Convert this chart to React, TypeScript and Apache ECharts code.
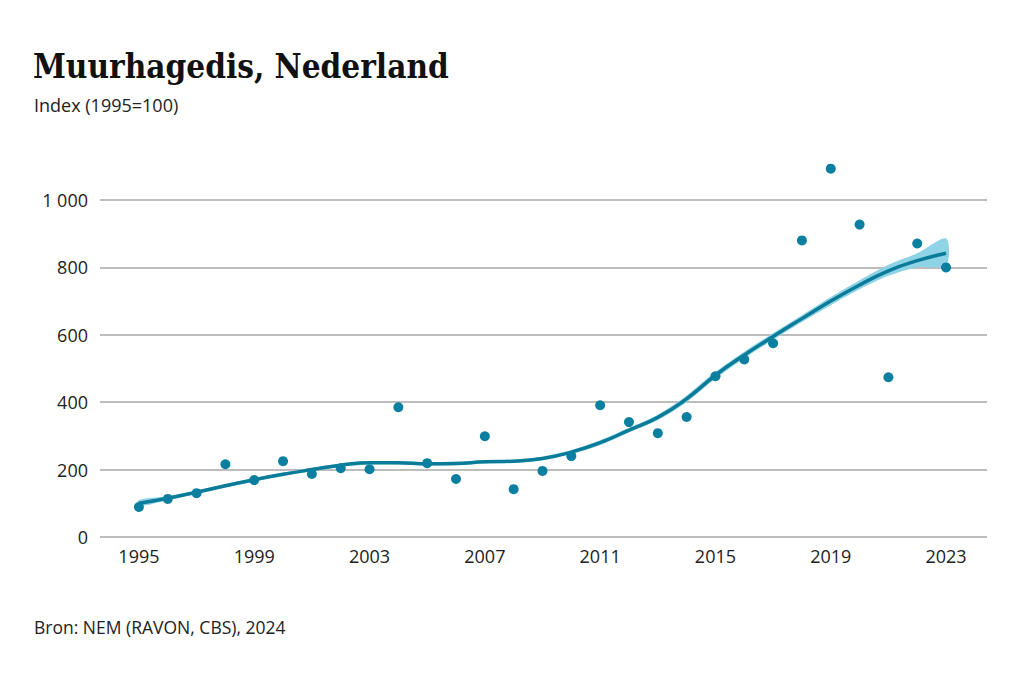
import React, { useEffect, useRef } from "react";
import * as echarts from "echarts";

const years = [1995,1996,1997,1998,1999,2000,2001,2002,2003,2004,2005,2006,2007,2008,2009,2010,2011,2012,2013,2014,2015,2016,2017,2018,2019,2020,2021,2022,2023];
const observed = [89,113,130,216,169,225,187,204,201,385,219,172,299,142,196,240,391,341,308,356,477,527,575,880,1093,927,474,871,800];
const trend = [100,115,133,152,170,186,200,213,220,220,217,218,223,225,233,252,280,317,355,410,480,540,595,648,700,748,790,820,842];
const lower = [92,109,128,147,165,181,195,208,215,215,212,213,218,220,228,246,273,310,347,400,470,530,585,638,688,735,775,800,806];
const upper = [110,121,138,157,175,191,205,218,225,225,222,223,228,230,238,258,287,324,363,420,490,550,605,658,712,762,808,842,886];
const xLabels = [1995,1999,2003,2007,2011,2015,2019,2023];

const SANS = "'Open Sans', 'Noto Sans', sans-serif";

export default function App() {
  const ref = useRef<HTMLDivElement>(null);
  useEffect(() => {
    if (!ref.current) return;
    const chart = echarts.init(ref.current, null, { renderer: "svg" });
    const bandPts = years.map((y, i) => [y, upper[i]]).concat(years.map((y, i) => [y, lower[i]]).reverse());
    chart.setOption({
      animation: false,
      backgroundColor: "#ffffff",
      title: [
        { text: "Muurhagedis, Nederland", left: 33, top: 50, padding: 0, textStyle: { fontFamily: "'DejaVu Serif Condensed', 'DejaVu Serif', serif", fontWeight: "bold", fontSize: 33, color: "#111" } },
        { text: "Index (1995=100)", left: 34, top: 96, padding: 0, textStyle: { fontFamily: SANS, fontWeight: "normal", fontSize: 18, color: "#222" } },
        { text: "Bron: NEM (RAVON, CBS), 2024", left: 34, top: 618, padding: 0, textStyle: { fontFamily: SANS, fontWeight: "normal", fontSize: 17.5, color: "#222" } },
      ],
      grid: { left: 100, right: 37, top: 200, bottom: 144 },
      xAxis: {
        type: "value",
        min: 1993.65,
        max: 2024.42,
        splitLine: { show: false },
        axisLine: { show: false },
        axisTick: { show: false },
        axisLabel: { customValues: xLabels, formatter: (v: number) => String(v), fontFamily: SANS, fontSize: 18, color: "#222", margin: 10 },
      },
      yAxis: {
        type: "value",
        min: 0,
        max: 1000,
        interval: 200,
        axisLine: { show: false },
        axisTick: { show: false },
        splitLine: { lineStyle: { color: "#bdbdbd", width: 2 } },
        axisLabel: {
          fontFamily: SANS, fontSize: 18, color: "#222", margin: 12,
          formatter: (v: number) => String(v).replace(/\B(?=(\d{3})+(?!\d))/g, " "),
        },
      },
      series: [
        {
          type: "custom",
          data: [[years[0], upper[0]]],
          clip: false,
          z: 1,
          renderItem: (params: any, api: any) => {
            const pts = bandPts.map((p) => api.coord(p));
            return { type: "polygon", shape: { points: pts, smooth: 0.3 }, style: { fill: "#8fd3e6", stroke: "none" } };
          },
        },
        {
          type: "line",
          data: years.map((y, i) => [y, trend[i]]),
          smooth: true,
          symbol: "none",
          lineStyle: { color: "#0a7c99", width: 3.5 },
          z: 2,
        },
        {
          type: "scatter",
          data: years.map((y, i) => [y, observed[i]]),
          symbolSize: 10,
          clip: false,
          itemStyle: { color: "#0a7f9f", opacity: 1 },
          z: 3,
        },
      ],
    });
    return () => chart.dispose();
  }, []);
  return <div ref={ref} style={{ width: 1024, height: 681, margin: -8 }} />;
}
